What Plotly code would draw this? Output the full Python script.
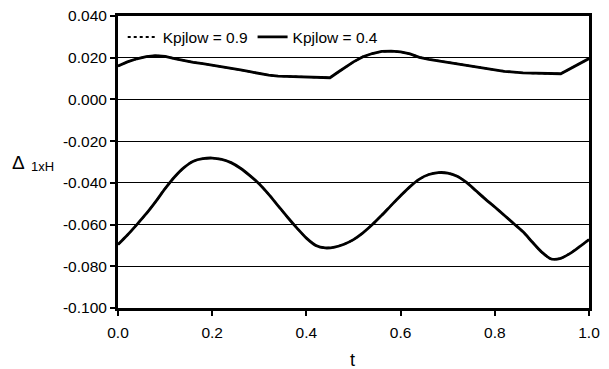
import plotly.graph_objects as go

t_upper = [0.00, 0.02, 0.04, 0.06, 0.08, 0.10, 0.12, 0.14, 0.16, 0.18, 0.20, 0.22, 0.24, 0.26, 0.28,
           0.30, 0.32, 0.34, 0.36, 0.38, 0.40, 0.42, 0.44, 0.45, 0.47, 0.50, 0.52, 0.54, 0.56, 0.58,
           0.60, 0.62, 0.64, 0.66, 0.70, 0.74, 0.78, 0.82, 0.86, 0.90, 0.94, 1.00]
v_upper = [0.0160, 0.0180, 0.0195, 0.0205, 0.0210, 0.0206, 0.0196, 0.0186, 0.0178, 0.0172, 0.0165,
           0.0158, 0.0150, 0.0142, 0.0133, 0.0124, 0.0116, 0.0112, 0.0110, 0.0108, 0.0107, 0.0106,
           0.0105, 0.0104, 0.0135, 0.0180, 0.0205, 0.0220, 0.0230, 0.0232, 0.0228, 0.0218, 0.0202,
           0.0192, 0.0178, 0.0164, 0.0149, 0.0135, 0.0127, 0.0124, 0.0123, 0.0196]

t_lower = [0.00, 0.02, 0.04, 0.06, 0.08, 0.10, 0.12, 0.14, 0.16, 0.18, 0.20, 0.22, 0.24, 0.26, 0.28,
           0.30, 0.32, 0.34, 0.36, 0.38, 0.40, 0.42, 0.44, 0.46, 0.48, 0.50, 0.52, 0.54, 0.56, 0.58,
           0.60, 0.62, 0.64, 0.66, 0.68, 0.70, 0.72, 0.74, 0.76, 0.78, 0.80, 0.82, 0.84, 0.86, 0.88,
           0.90, 0.92, 0.94, 0.96, 0.98, 1.00]
v_lower = [-0.0696, -0.0650, -0.0600, -0.0548, -0.0490, -0.0428, -0.0372, -0.0327, -0.0296, -0.0284,
           -0.0281, -0.0287, -0.0303, -0.0330, -0.0365, -0.0405, -0.0455, -0.0510, -0.0565, -0.0617,
           -0.0665, -0.0700, -0.0712, -0.0708, -0.0694, -0.0672, -0.0640, -0.0600, -0.0555, -0.0508,
           -0.0462, -0.0418, -0.0382, -0.0360, -0.0351, -0.0353, -0.0368, -0.0398, -0.0438, -0.0478,
           -0.0516, -0.0555, -0.0595, -0.0635, -0.0685, -0.0733, -0.0765, -0.0762, -0.0738, -0.0706,
           -0.0672]

series_names = ["Kpjlow = 0.9", "Kpjlow = 0.4"]
x_ticks = [0.0, 0.2, 0.4, 0.6, 0.8, 1.0]
y_ticks = [0.04, 0.02, 0.0, -0.02, -0.04, -0.06, -0.08, -0.10]

FONT = "Liberation Sans, Arial, sans-serif"

curves = [(t_upper, v_upper, "linear"), (t_lower, v_lower, "spline")]

fig = go.Figure()
# Kpjlow = 0.9 (dotted) coincides with the solid curves and is hidden beneath them
for i, (tt, vv, shp) in enumerate(curves):
    fig.add_trace(go.Scatter(x=tt, y=vv, mode="lines", name=series_names[0],
                             line=dict(color="black", width=2, dash="dot", shape=shp, smoothing=0.8),
                             legendgroup="a", showlegend=(i == 0)))
for i, (tt, vv, shp) in enumerate(curves):
    fig.add_trace(go.Scatter(x=tt, y=vv, mode="lines", name=series_names[1],
                             line=dict(color="black", width=2.8, shape=shp, smoothing=0.8),
                             legendgroup="b", showlegend=(i == 0)))

fig.update_layout(
    width=609, height=369,
    margin=dict(l=118, r=20, t=16, b=61, autoexpand=False),
    paper_bgcolor="white", plot_bgcolor="white",
    font=dict(family=FONT, size=15.5, color="black"),
    showlegend=True,
    legend=dict(orientation="h", x=0.01, y=0.985, xanchor="left", yanchor="top",
                bgcolor="rgba(0,0,0,0)", font=dict(size=15.5), itemwidth=30,
                tracegroupgap=0),
    xaxis=dict(range=[0, 1], tickvals=x_ticks, ticktext=[f"{v:.1f}" for v in x_ticks],
               showgrid=False, zeroline=False, showline=True, linecolor="black", linewidth=3,
               mirror=True, ticks="outside", ticklen=5, tickwidth=1.5, tickcolor="black",
               ticklabelstandoff=3, automargin=False),
    yaxis=dict(range=[-0.1, 0.04], tickvals=y_ticks, ticktext=[f"{v:.3f}" for v in y_ticks],
               showgrid=True, gridcolor="black", gridwidth=1, zeroline=False,
               showline=True, linecolor="black", linewidth=3, mirror=True,
               ticks="outside", ticklen=5, tickwidth=1.5, tickcolor="black",
               automargin=False),
)

fig.add_annotation(text="Δ", xref="paper", yref="paper", x=-0.193, y=0.50,
                   xanchor="right", yanchor="middle", showarrow=False,
                   font=dict(family=FONT, size=19, color="black"))
fig.add_annotation(text="1xH", xref="paper", yref="paper", x=-0.19, y=0.483,
                   xanchor="left", yanchor="middle", showarrow=False,
                   font=dict(family=FONT, size=13, color="black"))
fig.add_annotation(text="t", xref="paper", yref="paper", x=0.497, y=-0.178,
                   xanchor="center", yanchor="middle", showarrow=False,
                   font=dict(family=FONT, size=18, color="black"))

fig.write_html("out.html")
